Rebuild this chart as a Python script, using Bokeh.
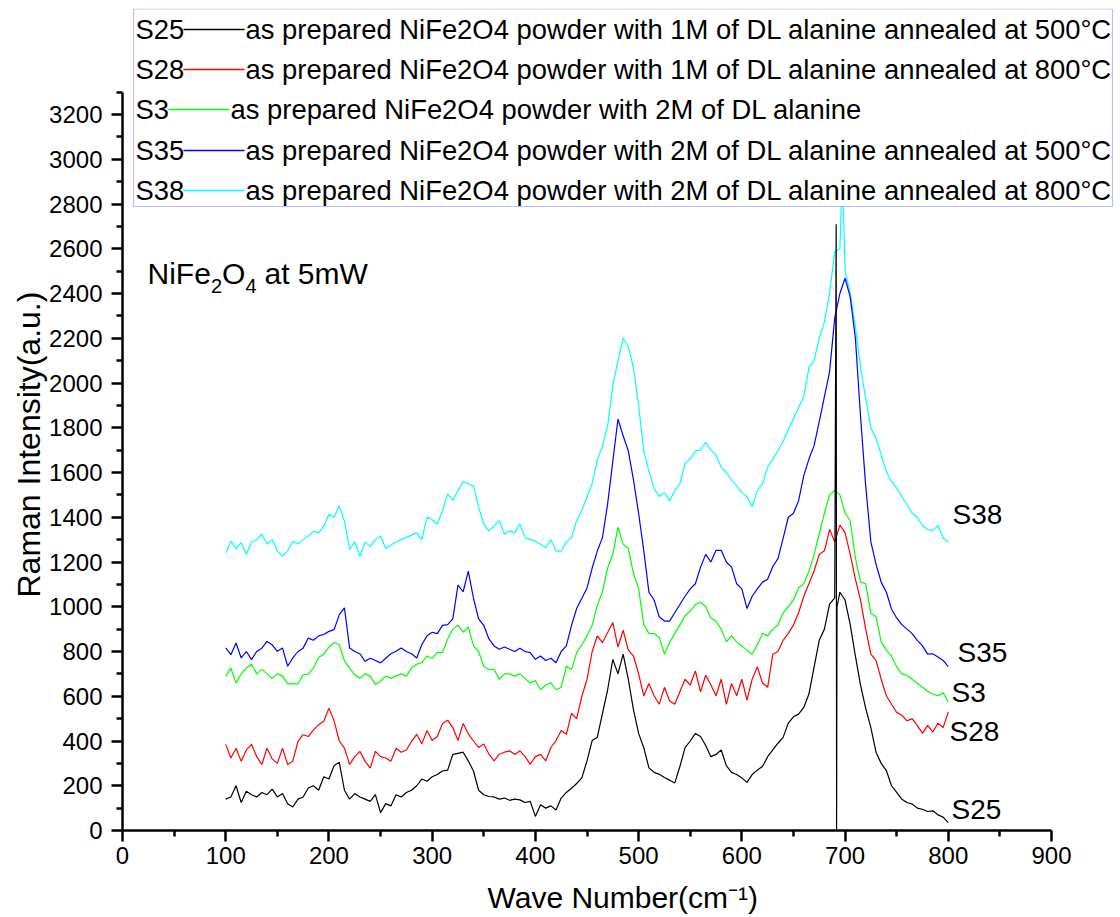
from bokeh.plotting import figure
from bokeh.models import FixedTicker, Label, BoxAnnotation, Range1d, Title
from bokeh.embed import file_html
from bokeh.resources import INLINE

# ---------------- data ----------------
wavenumber = list(range(100, 805, 5))  # cm^-1 grid, 100..800

s25 = [140, 150, 200, 125, 175, 160, 150, 170, 160, 185,
       150, 165, 120, 105, 140, 150, 190, 200, 180, 240,
       230, 290, 305, 180, 140, 165, 150, 140, 130, 160,
       80, 120, 110, 160, 150, 170, 180, 200, 230, 220,
       240, 250, 266, 270, 340, 345, 350, 311, 266, 180,
       160, 152, 150, 140, 145, 135, 140, 137, 125, 130,
       63, 115, 100, 110, 92, 145, 170, 189, 210, 235,
       311, 402, 417, 523, 629, 765, 700, 788, 676, 540,
       434, 370, 280, 260, 251, 237, 225, 212, 286, 370,
       400, 434, 420, 380, 330, 340, 360, 290, 260, 250,
       235, 215, 250, 270, 286, 330, 360, 390, 416, 480,
       508, 520, 550, 610, 730, 850, 900, 1012, 1040, 1065,
       1030, 920, 780, 650, 546, 460, 350, 300, 268, 200,
       170, 140, 125, 118, 100, 95, 85, 88, 70, 60,
       35]
s25_spike_x = [691.4, 691.8, 692.2]
s25_spike_y = [2710, 0, 1000]

s28 = [385, 324, 368, 309, 360, 385, 330, 295, 368, 320,
       300, 368, 295, 310, 398, 428, 420, 450, 473, 488,
       547, 490, 400, 368, 295, 330, 354, 309, 279, 354,
       330, 324, 309, 368, 350, 360, 398, 430, 387, 447,
       402, 420, 478, 493, 460, 402, 478, 432, 400, 371,
       387, 341, 311, 341, 350, 356, 340, 356, 330, 296,
       330, 340, 311, 371, 402, 447, 430, 523, 500, 600,
       675, 800, 870, 840, 885, 930, 820, 895, 806, 780,
       700, 602, 657, 602, 564, 640, 580, 564, 620, 676,
       650, 713, 620, 694, 650, 602, 676, 564, 657, 602,
       676, 583, 676, 732, 660, 640, 788, 800, 850, 881,
       918, 973, 1047, 1103, 1160, 1234, 1250, 1345, 1290, 1365,
       1330, 1234, 1123, 1030, 900, 788, 760, 676, 602, 564,
       528, 515, 490, 500, 470, 434, 470, 440, 480, 460,
       530]

s3 = [689, 726, 659, 700, 726, 743, 700, 720, 700, 680,
      700, 690, 655, 655, 655, 696, 700, 726, 773, 788,
      820, 840, 830, 758, 726, 696, 681, 700, 690, 652,
      667, 690, 680, 690, 700, 690, 726, 743, 750, 780,
      770, 795, 795, 856, 900, 917, 886, 910, 825, 800,
      734, 720, 720, 676, 700, 700, 690, 700, 680, 659,
      670, 629, 650, 660, 629, 640, 734, 720, 795, 830,
      870, 917, 1007, 1067, 1173, 1235, 1356, 1280, 1260, 1150,
      1080, 920, 881, 880, 863, 788, 840, 881, 918, 960,
      980, 1010, 1020, 1000, 950, 935, 900, 843, 870, 843,
      825, 806, 788, 830, 881, 870, 900, 918, 973, 1000,
      1030, 1085, 1103, 1159, 1234, 1326, 1418, 1500, 1520, 1500,
      1420, 1383, 1220, 1110, 1103, 970, 955, 843, 806, 780,
      732, 700, 694, 676, 658, 640, 622, 610, 602, 615,
      574]

s35 = [816, 786, 838, 771, 800, 764, 800, 815, 845, 830,
       801, 816, 734, 771, 800, 815, 860, 850, 870, 876,
       890, 898, 965, 995, 816, 800, 790, 756, 770, 760,
       749, 770, 790, 801, 816, 800, 790, 771, 831, 870,
       886, 880, 917, 920, 946, 1097, 1067, 1159, 1038, 946,
       917, 856, 825, 810, 820, 810, 800, 815, 800, 795,
       765, 780, 760, 770, 750, 800, 825, 917, 992, 1038,
       1083, 1173, 1250, 1309, 1460, 1650, 1839, 1764, 1697, 1567,
       1418, 1250, 1065, 1030, 955, 936, 936, 973, 1010, 1047,
       1080, 1103, 1177, 1234, 1200, 1252, 1252, 1200, 1177, 1103,
       1080, 992, 1047, 1080, 1110, 1123, 1180, 1215, 1306, 1400,
       1418, 1474, 1586, 1660, 1720, 1827, 1939, 2050, 2291, 2400,
       2468, 2385, 2200, 1850, 1540, 1290, 1190, 1110, 1065, 990,
       950, 920, 900, 880, 850, 825, 788, 790, 775, 760,
       732]

s38 = [1241, 1293, 1260, 1286, 1235, 1290, 1300, 1325, 1280, 1300,
       1250, 1226, 1250, 1293, 1280, 1300, 1316, 1338, 1330, 1360,
       1413, 1400, 1450, 1383, 1256, 1290, 1226, 1290, 1270, 1300,
       1316, 1260, 1275, 1290, 1300, 1310, 1320, 1330, 1300, 1400,
       1390, 1370, 1430, 1505, 1475, 1520, 1559, 1550, 1540, 1445,
       1370, 1339, 1360, 1385, 1324, 1340, 1330, 1370, 1309, 1300,
       1293, 1279, 1264, 1300, 1249, 1249, 1290, 1309, 1385, 1430,
       1490, 1550, 1657, 1718, 1808, 1989, 2100, 2200, 2162, 2069,
       1900, 1697, 1604, 1530, 1493, 1510, 1474, 1520, 1549, 1642,
       1660, 1697, 1700, 1735, 1700, 1679, 1623, 1600, 1567, 1540,
       1510, 1493, 1447, 1520, 1549, 1623, 1660, 1697, 1740, 1790,
       1840, 1890, 1939, 2069, 2100, 2200, 2273, 2400, 2589, 2600,
       2500, 2403, 2250, 2069, 1930, 1800, 1754, 1679, 1604, 1560,
       1530, 1494, 1456, 1418, 1400, 1363, 1345, 1340, 1363, 1307,
       1289]
s38_spike_x = [697.4]
s38_spike_y = [2950]

series_names = ["S25", "S28", "S3", "S35", "S38"]
series_colors = ["#000000", "#FF0000", "#00FF00", "#0000FF", "#00FFFF"]
legend_texts = [
    "as prepared NiFe2O4 powder with 1M of DL alanine annealed at 500°C",
    "as prepared NiFe2O4 powder with 1M of DL alanine annealed at 800°C",
    "as prepared NiFe2O4 powder with 2M of DL alanine",
    "as prepared NiFe2O4 powder with 2M of DL alanine annealed at 500°C",
    "as prepared NiFe2O4 powder with 2M of DL alanine annealed at 800°C",
]

x_ticks = [0, 100, 200, 300, 400, 500, 600, 700, 800, 900]
x_minor = [50, 150, 250, 350, 450, 550, 650, 750, 850]
y_ticks = [0, 200, 400, 600, 800, 1000, 1200, 1400, 1600, 1800, 2000,
           2200, 2400, 2600, 2800, 3000, 3200]
y_minor = [100, 300, 500, 700, 900, 1100, 1300, 1500, 1700, 1900, 2100,
           2300, 2500, 2700, 2900, 3100, 3300]

# ---------------- layout ----------------
FONT = "Liberation Sans"
FRAME_W, FRAME_H = 992, 822
ORIGIN_PX, ORIGIN_PY = 122, 830          # page position of the (0, 0) corner
KX = 929 / 900                           # px per cm^-1
KY = 716 / 3200                          # px per intensity unit


def dx(px):
    return (px - ORIGIN_PX) / KX


def dy(py):
    return (ORIGIN_PY - py) / KY


def with_spike(xs, ys, ex, ey):
    pts = sorted(zip(list(xs) + list(ex), list(ys) + list(ey)))
    return [a for a, _ in pts], [b for _, b in pts]


p = figure(frame_width=FRAME_W, frame_height=FRAME_H, title=None,
           x_range=Range1d(0, FRAME_W / KX), y_range=Range1d(0, FRAME_H / KY),
           output_backend="svg", toolbar_location=None,
           min_border_left=122, min_border_right=6, min_border_top=8,
           min_border_bottom=87)
p.outline_line_color = None
p.xgrid.grid_line_color = None
p.ygrid.grid_line_color = None
p.background_fill_color = "white"
p.border_fill_color = "white"

# ---------------- curves ----------------
curves = {
    "S25": with_spike(wavenumber, s25, s25_spike_x, s25_spike_y),
    "S28": (wavenumber, s28),
    "S3": (wavenumber, s3),
    "S35": (wavenumber, s35),
    "S38": with_spike(wavenumber, s38, s38_spike_x, s38_spike_y),
}
for name in ["S38", "S35", "S3", "S28", "S25"]:
    xs, ys = curves[name]
    c = series_colors[series_names.index(name)]
    p.line(xs, ys, line_color=c, line_width=1.2)

# ---------------- axes ----------------
p.xaxis.ticker = FixedTicker(ticks=x_ticks, minor_ticks=x_minor)
p.yaxis.ticker = FixedTicker(ticks=y_ticks, minor_ticks=y_minor)
p.xaxis.bounds = (0, 900)
p.yaxis.bounds = (0, 3300)
for ax in (p.xaxis[0], p.yaxis[0]):
    ax.axis_line_width = 2.5
    ax.axis_line_color = "black"
    ax.major_tick_line_width = 2.5
    ax.minor_tick_line_width = 2.5
    ax.major_tick_line_color = "black"
    ax.minor_tick_line_color = "black"
    ax.major_tick_out = 11
    ax.major_tick_in = 0
    ax.minor_tick_out = 6
    ax.minor_tick_in = 0
    ax.major_label_text_font = FONT
    ax.major_label_text_font_size = "24px"
    ax.major_label_text_color = "black"
p.xaxis.major_label_standoff = 5
p.yaxis.major_label_standoff = 9
# blank axis label: only reserves a little vertical space under the tick labels
p.xaxis.axis_label = " "
p.xaxis.axis_label_standoff = 0
p.xaxis.axis_label_text_font_size = "8px"

# axis titles (placed as side titles so they can be positioned along the axis)
p.add_layout(Title(text="Raman Intensity(a.u.)", align="left", offset=233,
                   text_font=FONT, text_font_size="32px", text_font_style="normal",
                   text_color="black", standoff=0), "left")
p.add_layout(Title(text="Wave Number(cm⁻¹)", align="left", offset=365,
                   text_font=FONT, text_font_size="30px", text_font_style="normal",
                   text_color="black", standoff=0), "below")

# inner annotation NiFe2O4 at 5mW
for txt, px, py, fs in [("NiFe", 147, 273, 30), ("2", 210.5, 285, 20), ("O", 221.5, 273, 30),
                        ("4", 245, 285, 20), ("at 5mW", 264, 273, 30)]:
    p.add_layout(Label(x=dx(px), y=dy(py), text=txt, text_font=FONT,
                       text_font_size=f"{fs}px", text_baseline="alphabetic", text_color="black"))

# series labels at the right ends
for txt, px, py in [("S38", 952, 514), ("S35", 957, 652), ("S3", 951, 692),
                    ("S28", 949, 731), ("S25", 951, 809)]:
    p.add_layout(Label(x=dx(px), y=dy(py), text=txt, text_font=FONT, text_font_size="28px",
                       text_baseline="middle", text_color="black"))

# ---------------- legend box ----------------
p.add_layout(BoxAnnotation(left=dx(133), right=dx(1112), top=dy(8.5), bottom=dy(206),
                           fill_color="white", fill_alpha=1.0,
                           line_color="#2222EE", line_width=1.2))
row_y = [29, 69, 109, 150, 190]
line_start = [183, 183, 168, 183, 183]
for name, desc, c, ry, ls in zip(series_names, legend_texts, series_colors, row_y, line_start):
    p.add_layout(Label(x=dx(135), y=dy(ry), text=name, text_font=FONT, text_font_size="27.4px",
                       text_baseline="middle", text_color="black"))
    p.segment(x0=[dx(ls)], y0=[dy(ry)], x1=[dx(ls + 61)], y1=[dy(ry)],
              line_color=c, line_width=1.3, level="overlay")
    p.add_layout(Label(x=dx(ls + 62), y=dy(ry), text=desc, text_font=FONT,
                       text_font_size="27.4px", text_baseline="middle", text_color="black"))

open("out.html", "w").write(file_html(p, INLINE))
